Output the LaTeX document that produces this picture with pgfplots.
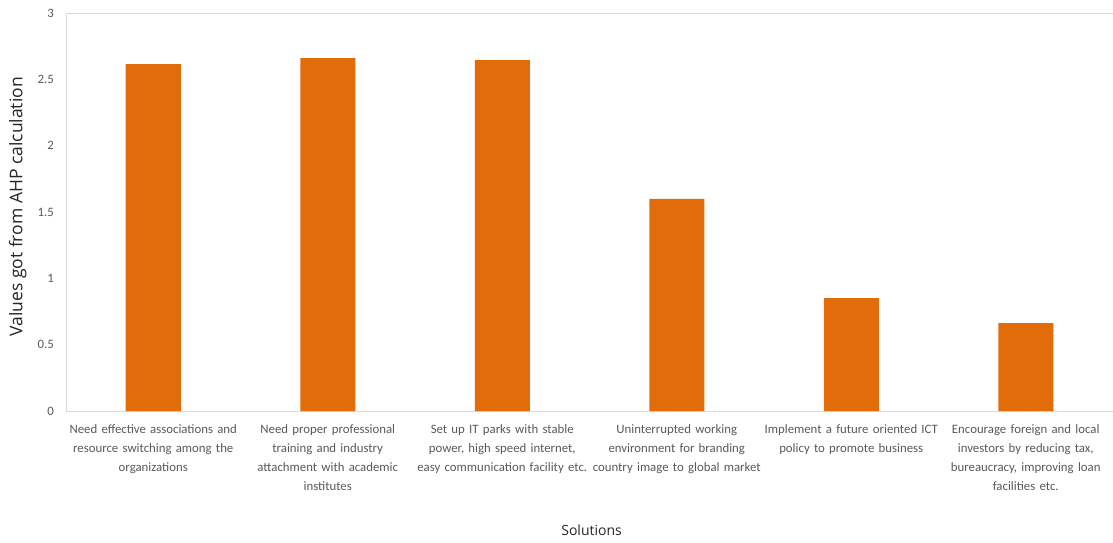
\documentclass[border=0pt]{standalone}
\usepackage{pgfplots}
\pgfplotsset{compat=1.18}
\usepackage{fontspec}
\setmainfont{Carlito}
\newfontfamily\ylabfont{Open Sans}
\definecolor{barc}{RGB}{227,108,10}
\definecolor{txt}{RGB}{89,89,89}
\definecolor{axc}{RGB}{217,217,217}
\begin{document}
\begin{tikzpicture}
\begin{axis}[
  at={(0,0)}, anchor=south west,
  scale only axis, width=1047pt, height=398pt,
  xmin=-0.5, xmax=5.5, ymin=0, ymax=3,
  ytick={0,0.5,1,1.5,2,2.5,3},
  xtick=data,
  xticklabels={
    {Need effective associations and\\resource switching among the\\organizations},
    {Need proper professional\\training and industry\\attachment with academic\\institutes},
    {Set up IT parks with stable\\power, high speed internet,\\easy communication facility etc.},
    {Uninterrupted working\\environment for branding\\country image to global market},
    {Implement a future oriented ICT\\policy to promote business},
    {Encourage foreign and local\\investors by reducing tax,\\bureaucracy, improving loan\\facilities etc.}
  },
  /pgf/number format/assume math mode=true,
  axis line style={axc},
  major tick length=0pt,
  tick style={draw=none},
  xticklabel style={text width=185pt, align=center, font=\fontsize{12.8}{19}\selectfont, text=txt, inner sep=0pt, yshift=-13pt},
  yticklabel style={font=\fontsize{12.8}{15}\selectfont, text=txt, inner sep=0pt, xshift=-12pt},
  ylabel={Values got from AHP calculation},
  ylabel style={at={(axis description cs:-0.046,0.513)}, anchor=center, rotate=0, font=\ylabfont\fontsize{17.5}{20}\selectfont, text=black!85},
  xlabel={Solutions},
  xlabel style={at={(axis description cs:0.502,-0.299)}, anchor=center, font=\ylabfont\fontsize{14}{17}\selectfont, text=black!85},
  ybar, bar width=55pt,
]
\addplot[fill=barc, draw=none] coordinates {(0,2.615) (1,2.66) (2,2.645) (3,1.598) (4,0.85) (5,0.663)};
\end{axis}
\pgfresetboundingbox
\path (-66pt,-132pt) rectangle (1047pt,411pt);
\end{tikzpicture}
\end{document}
